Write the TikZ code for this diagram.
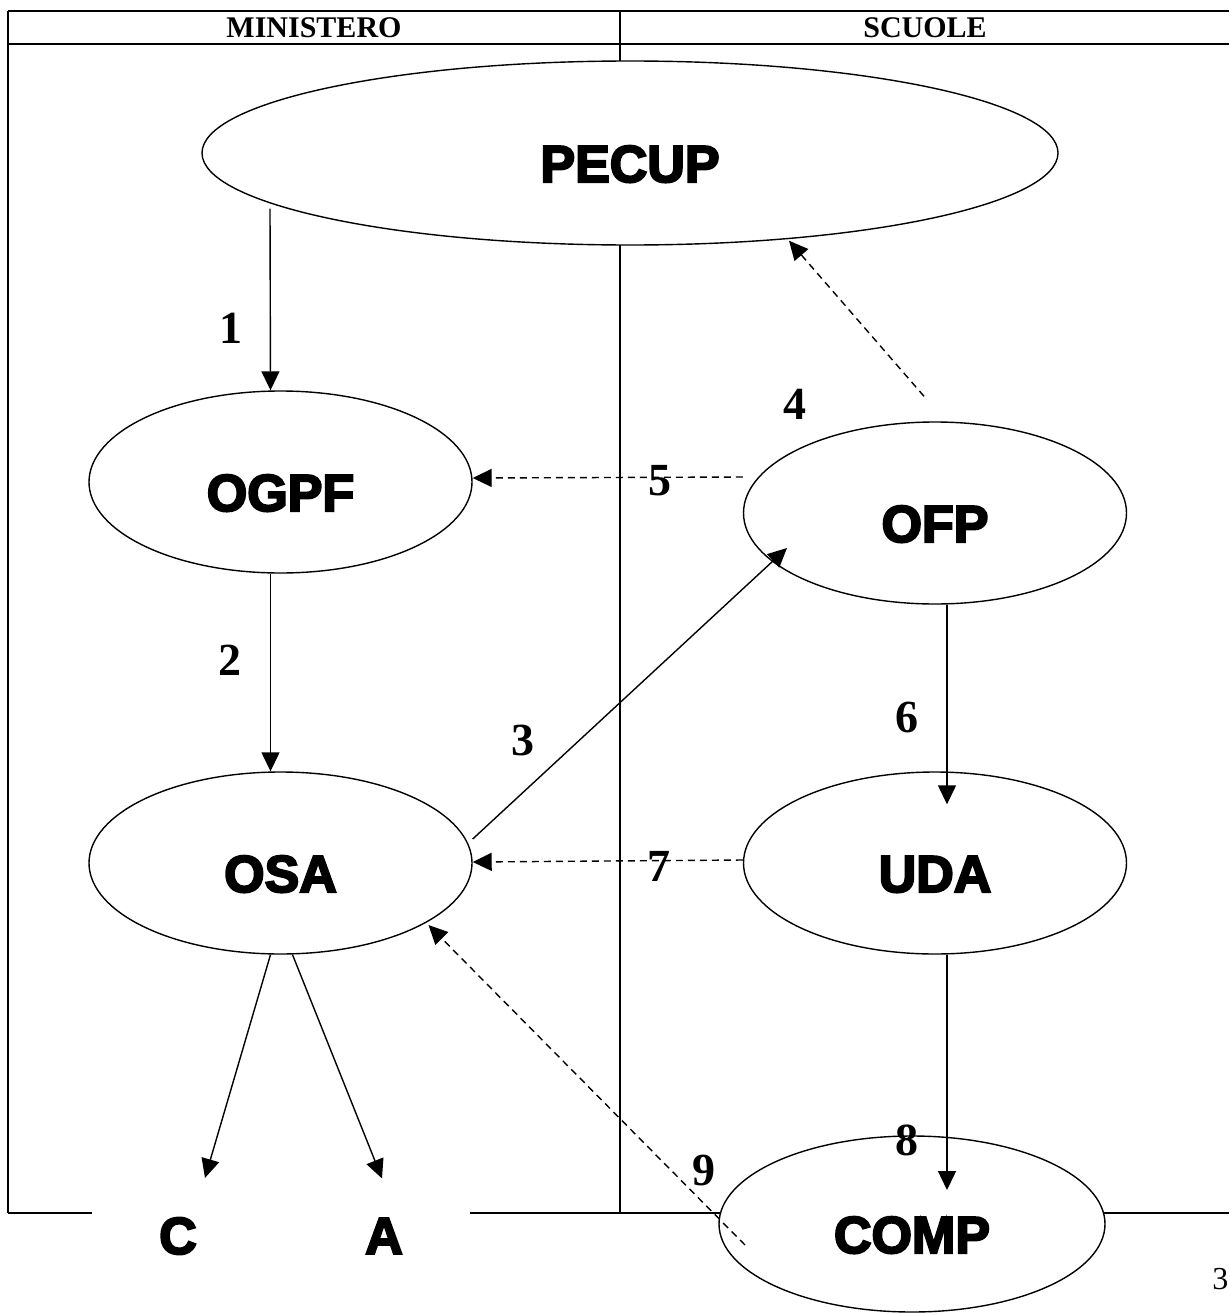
\documentclass[tikz,border=0pt]{standalone}
\usepackage{fontspec}
\setmainfont{Liberation Serif}
\newfontfamily\heavyfont[FakeBold=4]{Liberation Sans Bold}
\usetikzlibrary{arrows.meta,shapes.geometric}

\begin{document}
\begin{tikzpicture}[
	x=1pt,y=-1pt,
	>={Triangle[length=19pt,width=18pt]},
	line width=1.4pt,
	bubble/.style={ellipse,draw,fill=white,minimum width=383pt,minimum height=182pt,inner sep=0pt,
		font=\heavyfont\fontsize{52}{60}\selectfont,text height=58pt,text depth=0pt},
	leaf/.style={inner sep=0pt,font=\heavyfont\fontsize{52}{60}\selectfont},
	num/.style={inner sep=0pt,font=\bfseries\fontsize{46}{52}\selectfont},
	back/.style={->,dash pattern=on 7pt off 5pt}
	]
	\useasboundingbox (0,0) rectangle (1229,1314);
	% table
	\draw (8,11) -- (1229,11);
	\draw (8,44) -- (1229,44);
	\draw (8,1213) -- (1229,1213);
	\draw (8,11) -- (8,1213);
	\draw (620,11) -- (620,1213);
	\node (ministero) at (314,28) {\bfseries\fontsize{30}{34}\selectfont MINISTERO};
	\node (scuole) at (925,28) {\bfseries\fontsize{30}{34}\selectfont SCUOLE};
	% ellipses
	\node[bubble,minimum width=856pt,minimum height=184pt] (pecup) at (630,153) {PECUP};
	\node[bubble] (ogpf) at (280.5,482) {OGPF};
	\node[bubble] (ofp) at (935,513) {OFP};
	\node[bubble] (osa) at (280.5,863) {OSA};
	\node[bubble] (uda) at (935,863) {UDA};
	\node[bubble,minimum width=386pt,minimum height=176pt] (comp) at (912,1224) {COMP};
	\node[fill=white,minimum width=378pt,minimum height=56pt] (cabox) at (281,1230) {};
	\node[leaf] (c) at (178,1236) {C};
	\node[leaf] (a) at (384,1236) {A};
	% numbers
	\node[num] (n1) at (231,328) {1};
	\node[num] (n2) at (230,660) {2};
	\node[num] (n3) at (523,740) {3};
	\node[num] (n4) at (795,404) {4};
	\node[num] (n5) at (660,481) {5};
	\node[num] (n6) at (907,717) {6};
	\node[num] (n7) at (659,866) {7};
	\node[num] (n8) at (907,1140) {8};
	\node[num] (n9) at (704,1170) {9};
	\node[inner sep=0pt,anchor=east,font=\fontsize{32}{36}\selectfont] (page) at (1229,1279) {3};
	% arrows
	\draw[->] ([xshift=-360pt,yshift=37pt]pecup.south) -- ([xshift=-10pt]ogpf.north);
	\draw[->] ([xshift=-10pt]ogpf.south) -- ([xshift=-10pt]osa.north);
	\draw[->] ([yshift=24pt]osa.east) -- ([xshift=-148pt,yshift=-35pt]ofp.center);
	\draw[back] ([xshift=-11pt,yshift=25pt]ofp.north) -- ([xshift=159pt,yshift=5pt]pecup.south);
	\draw[back] ([yshift=36pt]ofp.west) -- ([yshift=4pt]ogpf.east);
	\draw[->] ([xshift=12pt]ofp.south) -- ([xshift=12pt,yshift=-33pt]uda.north);
	\draw[back] ([yshift=3pt]uda.west) -- ([yshift=1pt]osa.east);
	\draw[->] ([xshift=12pt]uda.south) -- ([xshift=35pt,yshift=34pt]comp.center);
	\draw[back] ([xshift=-167pt,yshift=-21pt]comp.center) -- ([xshift=148pt,yshift=-62pt]osa.center);
	\draw[->] ([xshift=-10pt]osa.south) -- ([xshift=27pt,yshift=39pt]c.north);
	\draw[->] ([xshift=12pt]osa.south) -- ([xshift=-2pt,yshift=39pt]a.north);
\end{tikzpicture}
\end{document}
